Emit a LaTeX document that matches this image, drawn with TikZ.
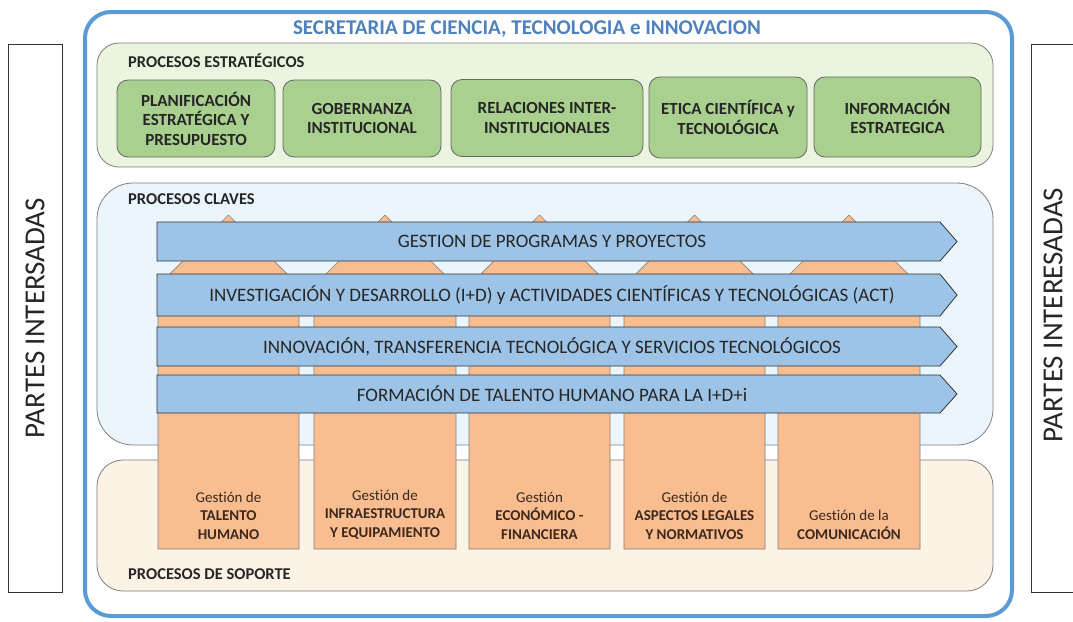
\documentclass[tikz,border=0pt]{standalone}
\usepackage{fontspec}
\setmainfont{Carlito}[Ligatures=CommonOff]
\definecolor{outerblue}{RGB}{91,155,213}
\definecolor{titleblue}{RGB}{79,129,189}
\definecolor{stratbg}{RGB}{235,244,222}
\definecolor{greenbox}{RGB}{169,208,142}
\definecolor{keybg}{RGB}{234,245,253}
\definecolor{supbg}{RGB}{253,242,230}
\definecolor{orangecol}{RGB}{249,189,143}
\definecolor{arrowblue}{RGB}{157,195,230}
\definecolor{txt}{RGB}{38,38,38}
\definecolor{coltxt}{RGB}{60,40,30}
\definecolor{framegray}{RGB}{127,127,127}
\begin{document}
\begin{tikzpicture}[x=1pt,y=-1pt,
  container/.style={draw=framegray, line width=0.8pt, rounded corners=22pt},
  gbox/.style={draw=framegray!80!black, fill=greenbox, line width=0.8pt, rounded corners=11pt,
    minimum height=77pt, align=center, text=txt, font=\fontsize{17}{19.5}\selectfont\bfseries, inner sep=0pt},
  seclabel/.style={anchor=west, text=txt, font=\fontsize{16.5}{19}\selectfont\bfseries, inner sep=0pt},
  pillar/.style={draw=framegray, fill=orangecol, line width=0.6pt},
  banner/.style={draw=black!80, fill=arrowblue, line width=0.8pt},
  bannertext/.style={text=txt, font=\fontsize{19}{22}\selectfont, inner sep=0pt},
  coltext/.style={anchor=south, align=center, text=coltxt, font=\fontsize{15}{18.5}\selectfont, inner sep=0pt},
  sidebox/.style={draw=black!80, line width=0.8pt, fill=white},
  sidetext/.style={rotate=90, text=txt, font=\fontsize{29}{33}\selectfont, inner sep=0pt}
]
\useasboundingbox (0,0) rectangle (1073,621);
\fill[white] (0,0) rectangle (1073,621);

% side boxes
\draw[sidebox] (8,44) rectangle (62,592);
\node[sidetext] (leftside) at (35,318) {PARTES INTERSADAS};
\draw[sidebox] (1031,44) rectangle (1090,592);
\node[sidetext] (rightside) at (1053,315) {PARTES INTERESADAS};

% outer frame
\draw[outerblue, line width=4pt, rounded corners=26pt] (85,12) rectangle (1012,616);
\node[text=titleblue, font=\fontsize{21}{24}\selectfont\bfseries, inner sep=0pt] (title) at (527,29) {SECRETARIA DE CIENCIA, TECNOLOGIA e INNOVACION};

% strategic
\draw[container, fill=stratbg] (97,43) rectangle (993,167);
\node[seclabel] (strat) at (128,61) {PROCESOS ESTRATÉGICOS};
\node[gbox, minimum width=158pt] (g1) at (196,118.5) {PLANIFICACIÓN\\ESTRATÉGICA Y\\PRESUPUESTO};
\node[gbox, minimum width=158pt] (g2) at (362,118.5) {GOBERNANZA\\INSTITUCIONAL};
\node[gbox, minimum width=192pt] (g3) at (547,118) {RELACIONES INTER-\\INSTITUCIONALES};
\node[gbox, minimum width=158pt, minimum height=81pt] (g4) at (728,117.5) {ETICA CIENTÍFICA y\\TECNOLÓGICA};
\node[gbox, minimum width=167pt, minimum height=80pt] (g5) at (897.5,117) {INFORMACIÓN\\ESTRATEGICA};

% key processes
\draw[container, fill=keybg, rounded corners=36pt] (97,183) rectangle (993,445);
\node[seclabel] (key) at (128,199) {PROCESOS CLAVES};

% support processes
\draw[container, fill=supbg, rounded corners=26pt] (97,460) rectangle (993,591);
\node[seclabel] (sup) at (128,574) {PROCESOS DE SOPORTE};

% pillars
\foreach \xl/\xr/\xc [count=\i] in {158/299/228.5, 314/456/385, 469/610/539.5, 624/765/694.5, 778/920/849}{
  \draw[pillar] (\xl,549) -- (\xl,286) -- (\xc,215) -- (\xr,286) -- (\xr,549) -- cycle;
  \coordinate (p\i) at (\xc,539.5);
}
\node[coltext] (s1) at (p1) {Gestión de\\\textbf{TALENTO}\\\textbf{HUMANO}};
\node[coltext] (s2) at (p2) {Gestión de\\\textbf{INFRAESTRUCTURA}\\\textbf{Y EQUIPAMIENTO}};
\node[coltext] (s3) at (p3) {Gestión\\\textbf{ECONÓMICO -}\\\textbf{FINANCIERA}};
\node[coltext] (s4) at (p4) {Gestión de\\\textbf{ASPECTOS LEGALES}\\\textbf{Y NORMATIVOS}};
\node[coltext] (s5) at (p5) {Gestión de la\\\textbf{COMUNICACIÓN}};

% banners
\foreach \yt/\yb [count=\i] in {222/261, 274/316, 327/366, 375/413}{
  \draw[banner] (157,\yt) -- (940,\yt) -- (957,{(\yt+\yb)/2}) -- (940,\yb) -- (157,\yb) -- cycle;
  \coordinate (b\i) at (552,{(\yt+\yb)/2});
}
\node[bannertext] (t1) at (b1) {GESTION DE PROGRAMAS Y PROYECTOS};
\node[bannertext] (t2) at (b2) {INVESTIGACIÓN Y DESARROLLO (I+D) y ACTIVIDADES CIENTÍFICAS Y TECNOLÓGICAS (ACT)};
\node[bannertext] (t3) at (b3) {INNOVACIÓN, TRANSFERENCIA TECNOLÓGICA Y SERVICIOS TECNOLÓGICOS};
\node[bannertext] (t4) at (b4) {FORMACIÓN DE TALENTO HUMANO PARA LA I+D+i};
\end{tikzpicture}
\end{document}
